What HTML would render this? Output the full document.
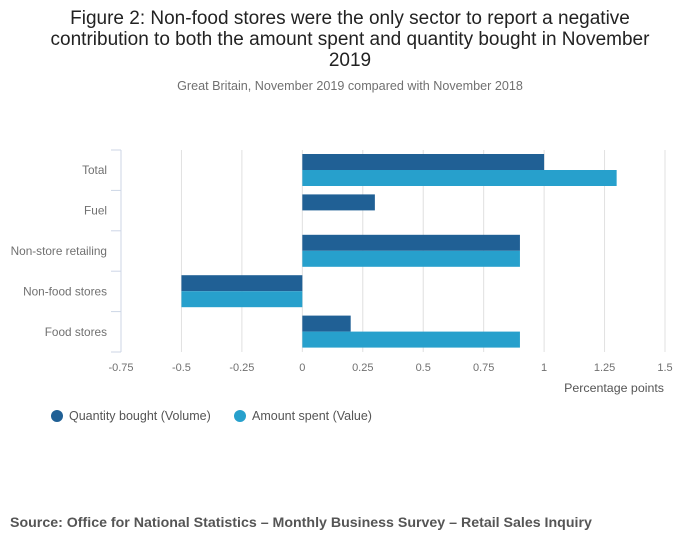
<!DOCTYPE html>
<html><head><meta charset="utf-8"><style>
body{margin:0;background:#fff;width:700px;height:549px;overflow:hidden;font-family:"Liberation Sans",sans-serif}
</style></head><body>
<svg width="700" height="549" xmlns="http://www.w3.org/2000/svg">
<text x="350" y="24" text-anchor="middle" font-size="19" fill="#222">Figure 2: Non-food stores were the only sector to report a negative</text>
<text x="350" y="45" text-anchor="middle" font-size="19" fill="#222">contribution to both the amount spent and quantity bought in November</text>
<text x="350" y="66" text-anchor="middle" font-size="19" fill="#222">2019</text>
<text x="350" y="90" text-anchor="middle" font-size="12.6" fill="#707070">Great Britain, November 2019 compared with November 2018</text>
<g id="grid"></g><g id="bars"></g><g id="axes"></g>
<text x="664" y="392" text-anchor="end" font-size="12.4" fill="#555">Percentage points</text>
<g>
<circle cx="57" cy="416" r="6" fill="#206095"/>
<text x="69" y="420" font-size="12.5" fill="#555">Quantity bought (Volume)</text>
<circle cx="240" cy="416" r="6" fill="#27a0cc"/>
<text x="252" y="420" font-size="12.5" fill="#555">Amount spent (Value)</text>
</g>
<text x="10" y="527" font-size="14.2" font-weight="bold" fill="#555">Source: Office for National Statistics – Monthly Business Survey – Retail Sales Inquiry</text>
</svg>
<script>
const categories=["Total","Fuel","Non-store retailing","Non-food stores","Food stores"];
const volume=[1.0,0.3,0.9,-0.5,0.2];
const value=[1.3,0,0.9,-0.5,0.9];
const ticks=[-0.75,-0.5,-0.25,0,0.25,0.5,0.75,1,1.25,1.5];
const tickLabels=["-0.75","-0.5","-0.25","0","0.25","0.5","0.75","1","1.25","1.5"];
const NS="http://www.w3.org/2000/svg";
const x0=121,x1=665,dmin=-0.75,dmax=1.5,yTop=150,yBot=352;
const xs=v=>x0+(v-dmin)/(dmax-dmin)*(x1-x0);
const band=(yBot-yTop)/categories.length;
function mk(t,a,p){const e=document.createElementNS(NS,t);for(const k in a)e.setAttribute(k,a[k]);p.appendChild(e);return e;}
const g=document.getElementById('grid'),b=document.getElementById('bars'),ax=document.getElementById('axes');
ticks.forEach((t,i)=>{
 if(i>0){const l=mk('line',{x1:xs(t),x2:xs(t),y1:yTop,y2:yBot,stroke:'#e0e0e0'},g);
 
 }
 const tx=mk('text',{x:xs(t),y:371,'text-anchor':'middle','font-size':11,fill:'#707070'},ax);
 tx.textContent=tickLabels[i];
 
 
});
const al=mk('line',{x1:x0,x2:x0,y1:yTop,y2:yBot,stroke:'#ccd6e6'},ax);


for(let i=0;i<=categories.length;i++){
 const tk=mk('line',{x1:x0-10,x2:x0,y1:yTop+i*band,y2:yTop+i*band,stroke:'#ccd6e6'},ax);
 
 
}
categories.forEach((c,i)=>{
 const y=yTop+i*band;
 const t=mk('text',{x:107,y:y+band/2+4,'text-anchor':'end','font-size':11.8,fill:'#707070'},ax);
 t.textContent=c;
 
 
 [[volume[i],'#206095',0],[value[i],'#27a0cc',1]].forEach(([v,col,k])=>{
  const xa=Math.min(xs(0),xs(v)),w=Math.abs(xs(v)-xs(0));
  const r=mk('rect',{x:xa,y:y+4+k*16,width:w,height:16,fill:col},b);
  
  
 });
});
</script>
</body></html>
